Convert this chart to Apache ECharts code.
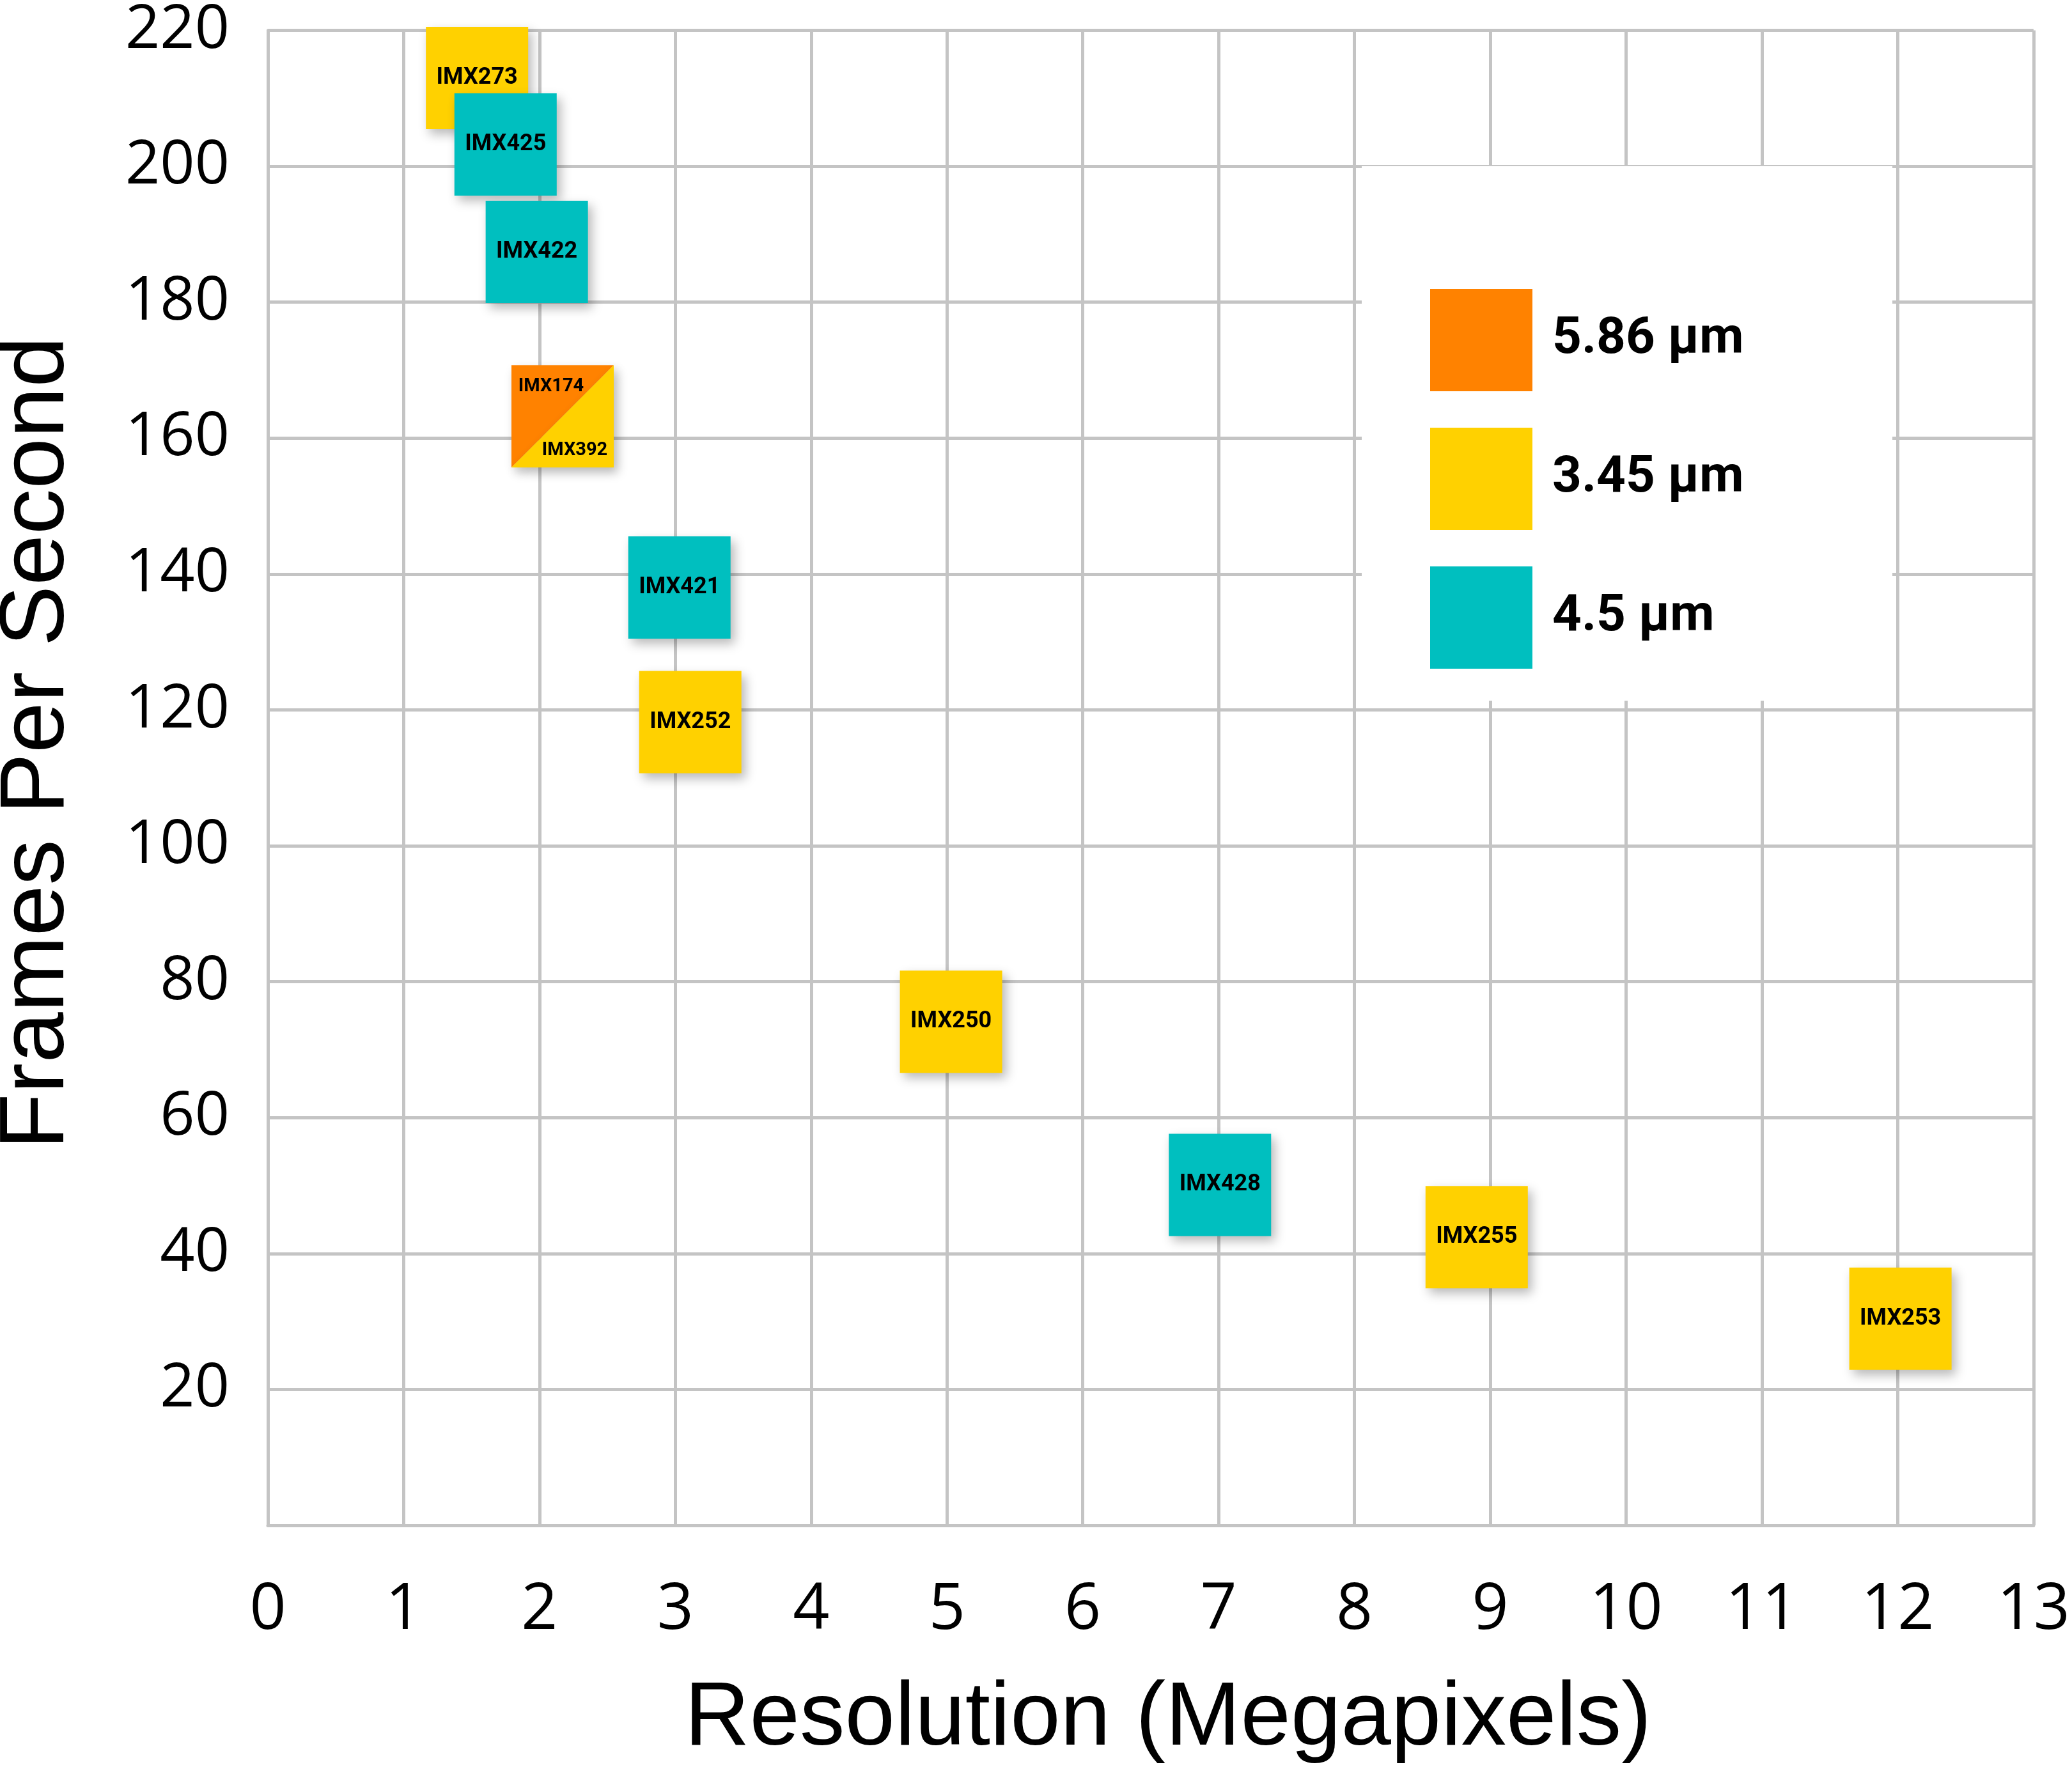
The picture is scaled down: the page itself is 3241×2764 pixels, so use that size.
<!DOCTYPE html>
<html>
<head>
<meta charset="utf-8">
<script src="https://cdn.jsdelivr.net/npm/echarts@6/dist/echarts.min.js"></script>
<style>
html,body{margin:0;padding:0;background:#fff;}
#chart{width:3241px;height:2764px;}
</style>
</head>
<body>
<div id="chart"></div>
<script>
// ---- data ----
const seriesNames = ['5.86 µm', '3.45 µm', '4.5 µm'];
const seriesColors = ['#FF8200', '#FFD100', '#00BFBF'];

const names586 = ['IMX174'];
const x586 = [2.17];
const y586 = [163.2];

const names345 = ['IMX273', 'IMX392', 'IMX252', 'IMX250', 'IMX255', 'IMX253'];
const x345 = [1.54, 2.17, 3.11, 5.03, 8.90, 12.02];
const y345 = [213.0, 163.2, 118.2, 74.1, 42.4, 30.4];

const names45 = ['IMX425', 'IMX422', 'IMX421', 'IMX428'];
const x45 = [1.75, 1.98, 3.03, 7.01];
const y45 = [203.2, 187.4, 138.0, 50.1];

const xAxisTitle = 'Resolution (Megapixels)';
const yAxisTitle = 'Frames Per Second';

// ---- styling for the shared (split) marker ----
const splitStyle = {
  'IMX174': { symbol: 'path://M0,0 L1,0 L0,1 Z', offset: [-18, -47] },
  'IMX392': { symbol: 'path://M1,0 L1,1 L0,1 Z', offset: [19, 53] }
};

function build(names, xs, ys) {
  return names.map(function (n, i) {
    const item = { name: n, value: [xs[i], ys[i]] };
    const s = splitStyle[n];
    if (s) {
      item.symbol = s.symbol;
      item.label = { offset: s.offset, fontSize: 29 };
    }
    return item;
  });
}

const allData = [build(names586, x586, y586), build(names345, x345, y345), build(names45, x45, y45)];

const gridColor = '#C4C4C4';
const chart = echarts.init(document.getElementById('chart'), null, { renderer: 'canvas' });

const option = {
  backgroundColor: '#ffffff',
  animation: false,
  grid: { left: 419, right: 54, top: 37, bottom: 378, containLabel: false },
  xAxis: {
    type: 'value', min: 0, max: 13, interval: 1,
    axisLine: { show: true, lineStyle: { color: gridColor, width: 5 } },
    axisTick: { show: false },
    splitLine: { show: true, lineStyle: { color: gridColor, width: 5 } },
    axisLabel: { color: '#000', fontFamily: 'Open Sans', fontSize: 100, margin: 84 }
  },
  yAxis: {
    type: 'value', min: 0, max: 220, interval: 20,
    axisLine: { show: true, lineStyle: { color: gridColor, width: 5 } },
    axisTick: { show: false },
    splitLine: { show: true, lineStyle: { color: gridColor, width: 5 } },
    axisLabel: {
      color: '#000', fontFamily: 'Open Sans', fontSize: 95, margin: 60,
      formatter: function (v) { return v === 0 ? '' : String(v); }
    }
  },
  legend: {
    orient: 'vertical', left: 2232, top: 447,
    itemWidth: 160, itemHeight: 160, itemGap: 57,
    icon: 'rect',
    data: seriesNames,
    selectedMode: false,
    textStyle: { fontFamily: 'Roboto', fontWeight: 'bold', fontSize: 80, color: '#000', padding: [0, 0, 0, 26] }
  },
  graphic: [
    { type: 'rect', z: 1, shape: { x: 2130, y: 260, width: 830, height: 836 }, style: { fill: '#ffffff' } },
    { type: 'text', z: 5, x: 1827, y: 2690,
      style: { text: xAxisTitle, fontFamily: 'Liberation Sans', fontSize: 141, fill: '#000', align: 'center', verticalAlign: 'middle' } },
    { type: 'text', z: 5, x: 60, y: 1162, rotation: Math.PI / 2,
      style: { text: yAxisTitle, fontFamily: 'Liberation Sans', fontSize: 143, fill: '#000', align: 'center', verticalAlign: 'middle' } }
  ],
  series: seriesNames.map(function (nm, k) {
    return {
      name: nm, type: 'scatter',
      symbol: 'rect', symbolSize: 160,
      itemStyle: {
        color: seriesColors[k], opacity: 1,
        shadowBlur: 16, shadowOffsetX: 6, shadowOffsetY: 8, shadowColor: 'rgba(0,0,0,0.28)'
      },
      label: {
        show: true, position: 'inside', formatter: '{b}',
        fontFamily: 'Roboto', fontWeight: 'bold', fontSize: 36, color: '#000'
      },
      emphasis: { disabled: true },
      data: allData[k]
    };
  })
};
chart.setOption(option);
</script>
</body>
</html>
